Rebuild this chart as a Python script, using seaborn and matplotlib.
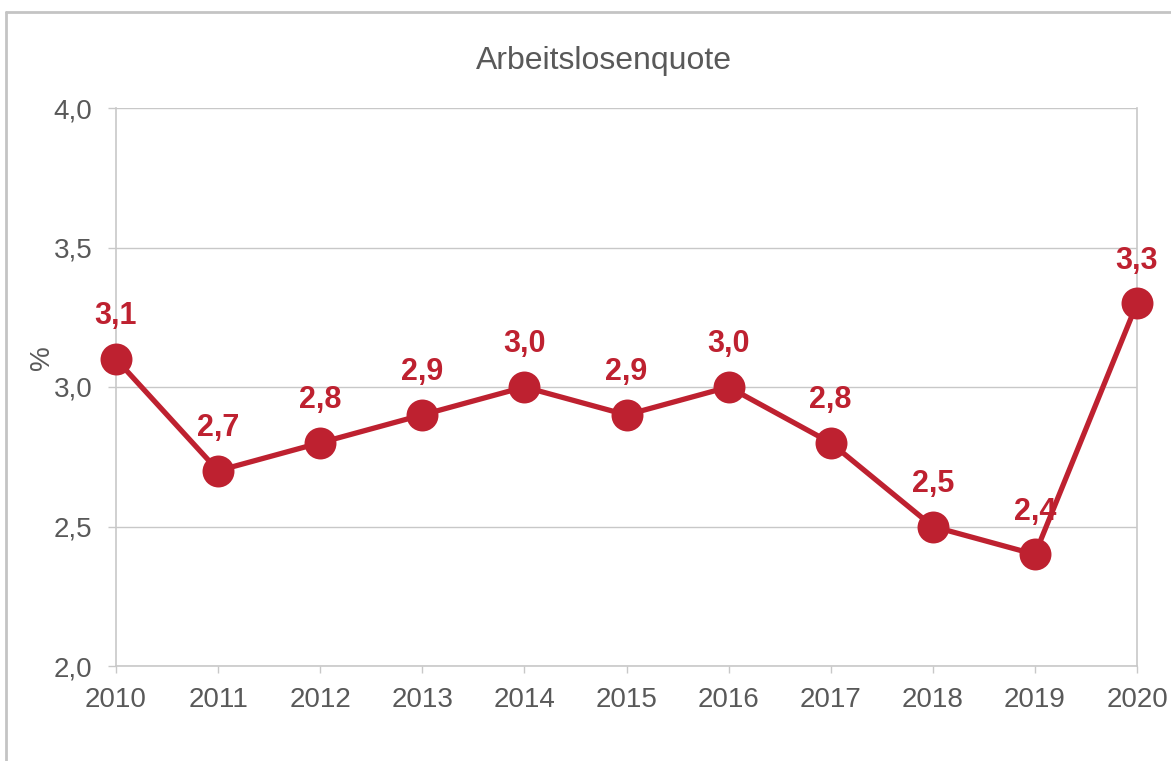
import matplotlib
matplotlib.use("Agg")
import matplotlib.pyplot as plt
from matplotlib.lines import Line2D
from matplotlib.ticker import FuncFormatter, MultipleLocator
import seaborn as sns
import pandas as pd

years = [2010, 2011, 2012, 2013, 2014, 2015, 2016, 2017, 2018, 2019, 2020]
quote = [3.1, 2.7, 2.8, 2.9, 3.0, 2.9, 3.0, 2.8, 2.5, 2.4, 3.3]
title = "Arbeitslosenquote"
y_label = "%"

RED = "#BE2130"
GREY_TEXT = "#595959"
GREY_LINE = "#C8C8C8"

sns.set_style("white")
plt.rcParams["font.family"] = ["Liberation Sans", "DejaVu Sans"]

df = pd.DataFrame({"Jahr": years, "Quote": quote})

fig = plt.figure(figsize=(11.71, 7.61), dpi=100)
ax = fig.add_axes([116 / 1171, 1 - 666 / 761, (1137 - 116) / 1171, (666 - 108) / 761])

sns.lineplot(data=df, x="Jahr", y="Quote", ax=ax, color=RED, linewidth=3.8,
             marker="o", markersize=23, markeredgewidth=0, markerfacecolor=RED,
             zorder=3, clip_on=False)

for x, y in zip(years, quote):
    ax.annotate(f"{y:.1f}".replace(".", ","), (x, y), xytext=(0, 25),
                textcoords="offset points", ha="center", va="baseline",
                fontsize=22, fontweight="bold", color=RED, zorder=4,
                annotation_clip=False)

ax.set_xlim(years[0], years[-1])
ax.set_ylim(2.0, 4.0)
ax.yaxis.set_major_locator(MultipleLocator(0.5))
ax.yaxis.set_major_formatter(FuncFormatter(lambda v, _: f"{v:.1f}".replace(".", ",")))
ax.set_xticks(years)
ax.set_xticklabels([str(y) for y in years])

ax.grid(axis="y", color=GREY_LINE, linewidth=1)
ax.grid(axis="x", visible=False)
for side in ["left", "bottom", "right"]:
    ax.spines[side].set_visible(True)
    ax.spines[side].set_color(GREY_LINE)
    ax.spines[side].set_linewidth(1.2)
ax.spines["top"].set_visible(False)

ax.tick_params(axis="y", length=6, width=1, color=GREY_LINE, pad=11,
               labelsize=20, labelcolor=GREY_TEXT, left=True)
ax.tick_params(axis="x", length=5, width=1, color=GREY_LINE, pad=10,
               labelsize=20, labelcolor=GREY_TEXT, bottom=True)

ax.set_xlabel("")
ax.set_ylabel(y_label, fontsize=20, color=GREY_TEXT)
ax.yaxis.set_label_coords(-0.060, 0.552)

fig.text(604 / 1171, 1 - 61 / 761, title, ha="center", va="center",
         fontsize=23, color=GREY_TEXT)

# outer frame of the chart area
fig.add_artist(Line2D([6 / 1171, 1.0], [1 - 12 / 761, 1 - 12 / 761],
                      transform=fig.transFigure, color="#C4C4C4", linewidth=2))
fig.add_artist(Line2D([6 / 1171, 6 / 1171], [0.0, 1 - 12 / 761],
                      transform=fig.transFigure, color="#C4C4C4", linewidth=2))

fig.savefig("out.png", dpi=100)
